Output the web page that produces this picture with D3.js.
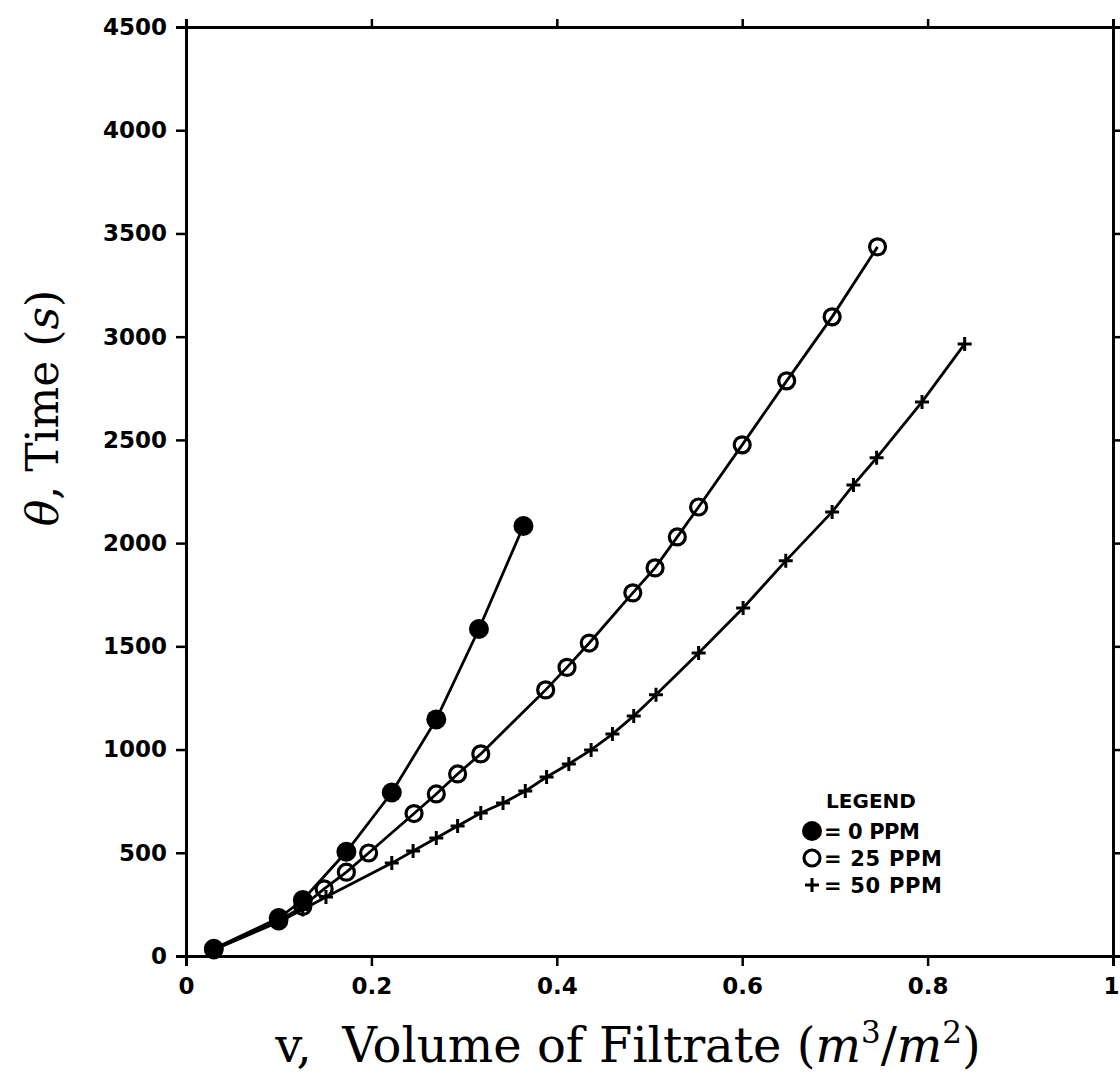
<!DOCTYPE html>
<html>
<head>
<meta charset="utf-8">
<script src="https://cdn.jsdelivr.net/npm/d3@7"></script>
<style>
  body { margin: 0; background: #fff; }
  svg { display: block; }
  .tick text { font-family: "DejaVu Sans", sans-serif; font-weight: bold; font-size: 23px; fill: #000; }
</style>
</head>
<body>
<div id="chart"></div>
<script>
// données (v en m3/m2, temps en s)
const v0 = [0.03, 0.100, 0.126, 0.173, 0.222, 0.270, 0.316, 0.364];
const t0 = [35, 184, 271, 505, 792, 1146, 1584, 2083];

const v25 = [0.03, 0.100, 0.126, 0.149, 0.173, 0.197, 0.246, 0.270, 0.293, 0.318, 0.388, 0.411, 0.435, 0.482, 0.506, 0.530, 0.553, 0.600, 0.648, 0.697, 0.746];
const t25 = [30, 170, 240, 325, 406, 499, 690, 785, 882, 979, 1289, 1398, 1516, 1759, 1880, 2030, 2175, 2476, 2786, 3096, 3435];

const v50 = [0.03, 0.100, 0.126, 0.151, 0.222, 0.245, 0.270, 0.293, 0.318, 0.342, 0.366, 0.389, 0.413, 0.437, 0.460, 0.483, 0.507, 0.553, 0.601, 0.647, 0.697, 0.720, 0.745, 0.794, 0.840];
const t50 = [30, 165, 225, 286, 450, 509, 572, 630, 693, 741, 799, 867, 930, 998, 1075, 1163, 1265, 1468, 1686, 1914, 2151, 2282, 2413, 2684, 2965];

const xTicks = [0, 0.2, 0.4, 0.6, 0.8, 1];
const yTicks = [0, 500, 1000, 1500, 2000, 2500, 3000, 3500, 4000, 4500];
const legendLabels = ["= 0 PPM", "= 25 PPM", "= 50 PPM"];

const width = 1120, height = 1076;
const margin = {left: 186, right: 7, top: 27, bottom: 120};

const svg = d3.select("#chart").append("svg")
    .attr("width", width)
    .attr("height", height);

const x = d3.scaleLinear().domain([0, 1]).range([margin.left, width - margin.right]);
const y = d3.scaleLinear().domain([0, 4500]).range([height - margin.bottom, margin.top]);

// axes
const fmtX = d => (d === 0 || d === 1) ? String(d) : d3.format(".1f")(d);

const gBottom = svg.append("g")
    .attr("transform", `translate(0,${y(0)})`)
    .call(d3.axisBottom(x).tickValues(xTicks).tickFormat(fmtX).tickSize(10).tickPadding(8));
const gTop = svg.append("g")
    .attr("transform", `translate(0,${y(4500)})`)
    .call(d3.axisTop(x).tickValues(xTicks).tickFormat("").tickSize(8));
const gLeft = svg.append("g")
    .attr("transform", `translate(${x(0)},0)`)
    .call(d3.axisLeft(y).tickValues(yTicks).tickFormat(d3.format("d")).tickSize(10).tickPadding(9));
const gRight = svg.append("g")
    .attr("transform", `translate(${x(1)},0)`)
    .call(d3.axisRight(y).tickValues(yTicks).tickFormat("").tickSize(8));

[gBottom, gTop, gLeft, gRight].forEach(g => {
    g.select(".domain").attr("stroke", "#000").attr("stroke-width", 3);
    g.selectAll(".tick line").attr("stroke", "#000").attr("stroke-width", 2.5);
});
gBottom.selectAll(".tick text").attr("dy", "0.85em");
// le "1" touche le bord droit : on le garde dans la page
gBottom.selectAll(".tick text").filter(d => d === 1)
    .attr("text-anchor", "end").attr("x", 6);

// titres des axes
svg.append("text")
    .attr("x", 628)
    .attr("y", 1062)
    .attr("text-anchor", "middle")
    .style("font-family", "'DejaVu Serif', serif")
    .style("font-size", "48px")
    .html('v,&#160; Volume of Filtrate (<tspan font-style="italic">m</tspan><tspan dy="-19" font-size="31">3</tspan><tspan dy="19">/</tspan><tspan font-style="italic">m</tspan><tspan dy="-19" font-size="31">2</tspan><tspan dy="19">)</tspan>');

svg.append("text")
    .attr("transform", "translate(58,408) rotate(-90)")
    .attr("text-anchor", "middle")
    .style("font-family", "'DejaVu Serif', serif")
    .style("font-size", "44px")
    .html('<tspan font-style="italic">θ</tspan>, Time (<tspan font-style="italic">s</tspan>)');

// courbes
const line = d3.line().x(d => x(d[0])).y(d => y(d[1]));
const series = [
    {v: v0, t: t0, type: "filled"},
    {v: v25, t: t25, type: "open"},
    {v: v50, t: t50, type: "plus"}
];

series.forEach(s => {
    const pts = s.v.map((d, i) => [d, s.t[i]]);
    svg.append("path")
        .datum(pts)
        .attr("fill", "none")
        .attr("stroke", "#000")
        .attr("stroke-width", 2.8)
        .attr("d", line);
    drawMarkers(svg, pts.map(p => [x(p[0]), y(p[1])]), s.type);
});

function drawMarkers(g, coords, type) {
    if (type === "filled") {
        g.selectAll(null).data(coords).join("circle")
            .attr("cx", d => d[0]).attr("cy", d => d[1]).attr("r", 10)
            .attr("fill", "#000");
    } else if (type === "open") {
        g.selectAll(null).data(coords).join("circle")
            .attr("cx", d => d[0]).attr("cy", d => d[1]).attr("r", 8)
            .attr("fill", "none").attr("stroke", "#000").attr("stroke-width", 3.2);
    } else {
        g.selectAll(null).data(coords).join("path")
            .attr("d", d => `M${d[0] - 7},${d[1]}H${d[0] + 7}M${d[0]},${d[1] - 7}V${d[1] + 7}`)
            .attr("stroke", "#000").attr("stroke-width", 3);
    }
}

// légende
const legend = svg.append("g").attr("transform", "translate(812,0)");
legend.append("text")
    .attr("x", 59).attr("y", 808)
    .attr("text-anchor", "middle")
    .style("font-family", "'DejaVu Sans', sans-serif")
    .style("font-weight", "bold")
    .style("font-size", "20px")
    .text("LEGEND");

const types = ["filled", "open", "plus"];
legendLabels.forEach((lab, i) => {
    const cy = 831 + i * 27;
    drawMarkers(legend.append("g"), [[0, cy]], types[i]);
    legend.append("text")
        .attr("x", 12).attr("y", cy + 8)
        .style("font-family", "'DejaVu Sans', sans-serif")
        .style("font-weight", "bold")
        .style("font-size", "21px")
        .attr("textLength", i === 0 ? 96 : 118)
        .text(lab);
});
</script>
</body>
</html>
